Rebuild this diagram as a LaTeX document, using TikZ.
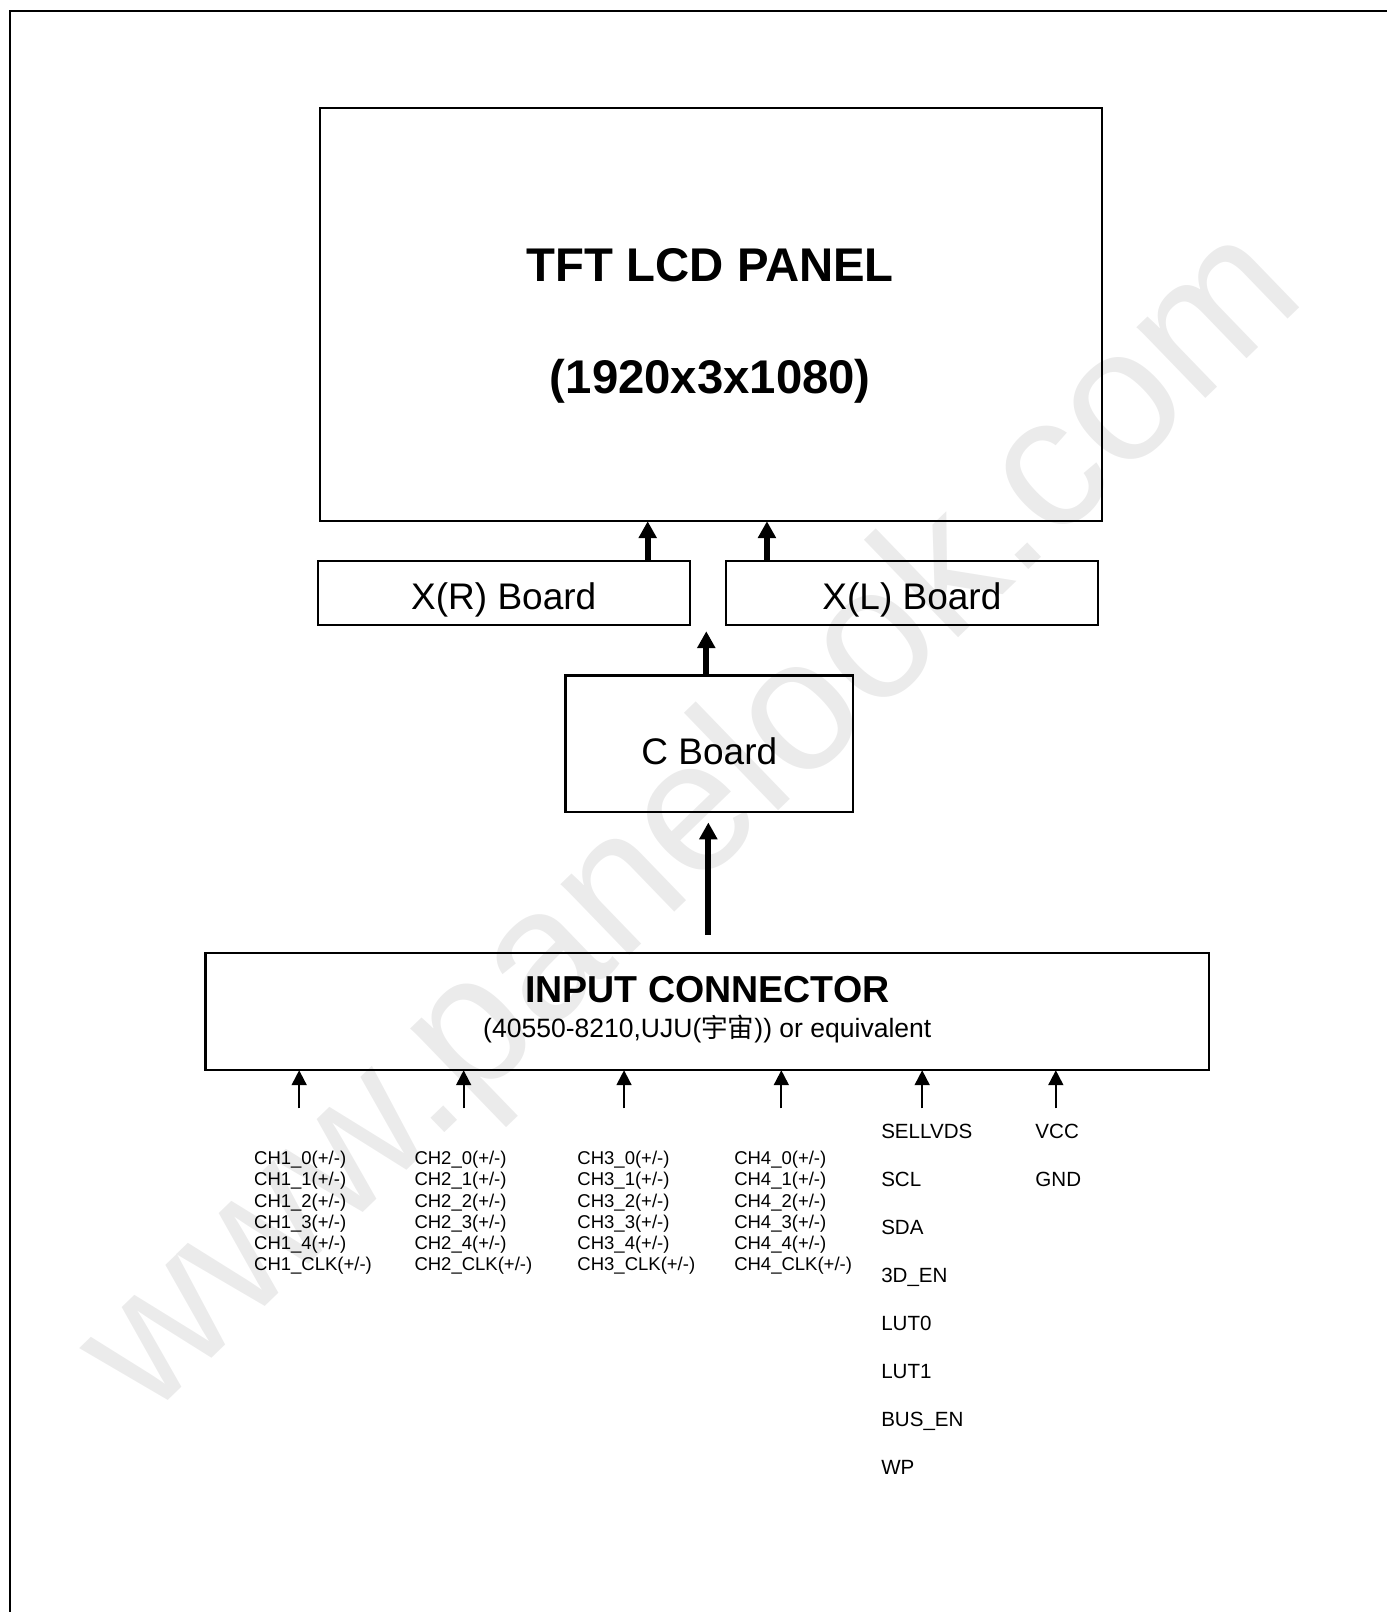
\documentclass[tikz,border=0pt]{standalone}
\usepackage{fontspec}
\setmainfont{Liberation Sans}
\newfontfamily\cjkfont{Noto Sans CJK SC}
\usetikzlibrary{arrows.meta, positioning}

\begin{document}
\begin{tikzpicture}[
        x=1pt, y=-1pt,
        box/.style={draw, line width=2.2pt, inner sep=0pt, outer sep=0pt},
        fat/.style={-{Triangle[length=16.5pt,width=17pt]}, line width=5.8pt},
        thin/.style={-{Triangle[length=14.5pt,width=14.5pt]}, line width=1.8pt},
        sig/.style={anchor=base west, inner sep=0pt, font=\fontsize{18}{20}\selectfont},
        pin/.style={anchor=base west, inner sep=0pt, font=\fontsize{20}{24}\selectfont},
        ]

        \useasboundingbox (0,0) rectangle (1349,1568);
        % watermark
        \node[rotate=44, text=black!8, font=\fontsize{182}{182}\selectfont] (wm) at (676,802) {www.panelook.com};

        % frame
        \draw[line width=2.5pt] (9.7,1570) -- (9.7,10.7) -- (1352,10.7);

        % panel
        \node[box, minimum width=761pt, minimum height=402pt] (panel) at (691.5,306) {};
        \node[anchor=base, font=\fontsize{46}{50}\selectfont\bfseries] (title) at (691,274) {TFT LCD PANEL};
        \node[anchor=base, font=\fontsize{46}{50}\selectfont\bfseries] (res) at (691,383) {(1920x3x1080)};

        % boards
        \node[box, minimum width=362pt, minimum height=62pt] (xr) at (490,577) {};
        \node[box, minimum width=362pt, minimum height=62pt] (xl) at (887,577) {};
        \node[box, minimum width=280pt, minimum height=133pt] (cb) at (690,723.5) {};
        \node[anchor=base, font=\fontsize{36}{40}\selectfont] at (490,593) {X(R) Board};
        \node[anchor=base, font=\fontsize{36}{40}\selectfont] at (887,593) {X(L) Board};
        \node[anchor=base, font=\fontsize{36}{40}\selectfont] at (690,744) {C Board};

        % connector
        \node[box, minimum width=976pt, minimum height=114pt] (conn) at (688,984) {};
        \node[anchor=base, font=\fontsize{36.5}{40}\selectfont\bfseries] (cname) at (688,975) {INPUT CONNECTOR};
        \node[anchor=base, font=\fontsize{25.8}{30}\selectfont] (cpart) at (688,1009) {(40550-8210,UJU({\cjkfont 宇宙})) or equivalent};

        % arrows
        \coordinate (ar) at (630,0);
        \coordinate (al) at (746,0);
        \coordinate (am) at (687,0);
        \coordinate (ac) at (689,0);
        \draw[fat] (xr.north -| ar) -- (panel.south -| ar);
        \draw[fat] (xl.north -| al) -- (panel.south -| al);
        \draw[fat, shorten >=6pt] (cb.north -| am) -- (xr.south -| am);
        \draw[fat, shorten <=18pt, shorten >=10pt] (conn.north -| ac) -- (cb.south -| ac);

        \foreach \x [count=\i] in {291,451,607,760,897,1027} {
          \coordinate (p\i) at (\x,1078);
          \draw[thin] (p\i) -- (p\i |- conn.south);
        }

        % signals
        \foreach \col/\x in {1/247, 2/403, 3/561.5, 4/714}
          \foreach \sg [count=\k from 0] in {0,1,2,3,4,CLK}
            \node[sig] (ch\col-\sg) at (\x,{1133+20.56*\k}) {CH\col\_\sg(+/-)};

        \foreach \pname [count=\k from 0] in {SELLVDS,SCL,SDA,3D\_EN,LUT0,LUT1,BUS\_EN,WP}
          \node[pin] (pin\k) at (857,{1107+46.7*\k}) {\pname};
        \node[pin] (vcc) at (1007,1107) {VCC};
        \node[pin] (gnd) at (1007,1153.7) {GND};
      \end{tikzpicture}
\end{document}
